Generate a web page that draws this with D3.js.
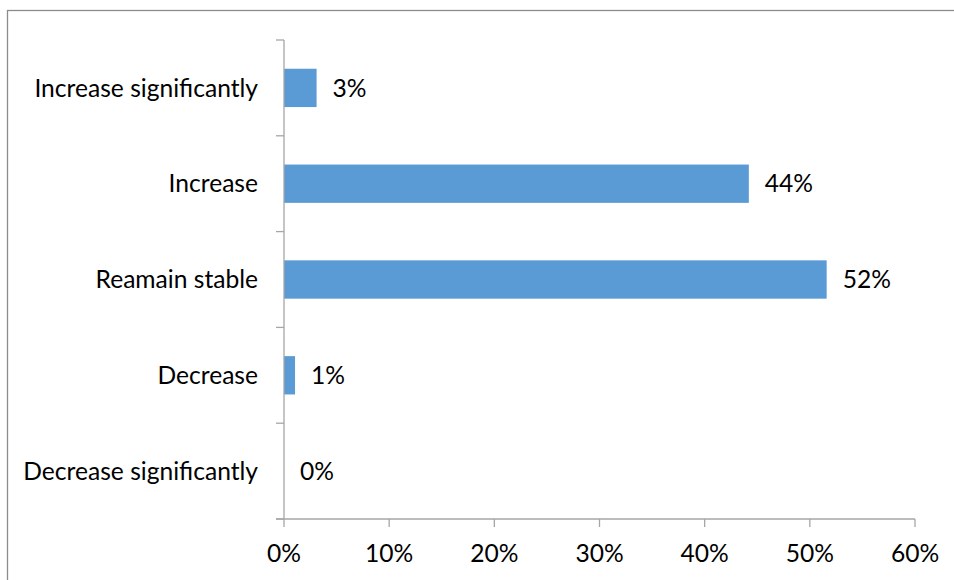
<!DOCTYPE html>
<html><head><meta charset="utf-8">
<script src="https://cdn.jsdelivr.net/npm/d3@7"></script>
<style>body{margin:0;background:#fff}svg{display:block}</style>
</head><body><svg id="c" width="954" height="580"></svg>
<script>
const categories = ["Increase significantly","Increase","Reamain stable","Decrease","Decrease significantly"];
const values = [3.1, 44.2, 51.6, 1.05, 0];
const valueLabels = ["3%","44%","52%","1%","0%"];
const xTicks = [0,10,20,30,40,50,60];

(function(){
const svg = d3.select("#c");
const font = "Lato, 'Open Sans', sans-serif";
const fs = 24.6;
const pLeft = 284, pRight = 915, pTop = 40, pBottom = 519;

svg.append("rect").attr("x",7.5).attr("y",10.5).attr("width",960).attr("height",600)
  .attr("fill","none").attr("stroke","#8c8c8c").attr("stroke-width",1.3);

const x = d3.scaleLinear().domain([0,60]).range([pLeft,pRight]);
const y = d3.scaleBand().domain(categories).range([pTop,pBottom]).paddingInner(0.6).paddingOuter(0.3);
const yb = d3.scaleBand().domain(categories).range([pTop,pBottom]);

svg.selectAll("rect.bar").data(values).join("rect").attr("class","bar")
  .attr("x",x(0)).attr("y",(d,i)=>y(categories[i]))
  .attr("width",d=>x(d)-x(0)).attr("height",y.bandwidth()).attr("fill","#5b9bd5");

svg.selectAll("text.val").data(values).join("text").attr("class","val")
  .attr("x",d=>x(d)+16).attr("y",(d,i)=>y(categories[i])+y.bandwidth()/2)
  .attr("dy","0.35em").attr("font-family",font).attr("font-size",fs).attr("fill","#000")
  .text((d,i)=>valueLabels[i]);

const axisColor = "#a6a6a6";
const ga = svg.append("g").attr("stroke",axisColor).attr("stroke-width",1.3);
ga.append("line").attr("x1",pLeft).attr("x2",pLeft).attr("y1",pTop).attr("y2",pBottom);
const sep = categories.map(c=>yb(c)).concat([pBottom]);
ga.selectAll("line.yt").data(sep).join("line").attr("class","yt")
  .attr("x1",pLeft-8).attr("x2",pLeft).attr("y1",d=>d).attr("y2",d=>d);
ga.append("line").attr("x1",pLeft-8).attr("x2",pRight).attr("y1",pBottom).attr("y2",pBottom);
ga.selectAll("line.xt").data(xTicks).join("line").attr("class","xt")
  .attr("x1",d=>x(d)).attr("x2",d=>x(d)).attr("y1",pBottom).attr("y2",pBottom+8);

svg.selectAll("text.cat").data(categories).join("text").attr("class","cat")
  .attr("x",pLeft-26).attr("y",d=>yb(d)+yb.bandwidth()/2).attr("dy","0.35em")
  .attr("text-anchor","end").attr("font-family",font).attr("font-size",fs).text(d=>d);

svg.selectAll("text.xl").data(xTicks).join("text").attr("class","xl")
  .attr("x",d=>x(d)).attr("y",pBottom+34).attr("dy","0.35em")
  .attr("text-anchor","middle").attr("font-family",font).attr("font-size",fs).text(d=>d+"%");
})();
</script></body></html>
